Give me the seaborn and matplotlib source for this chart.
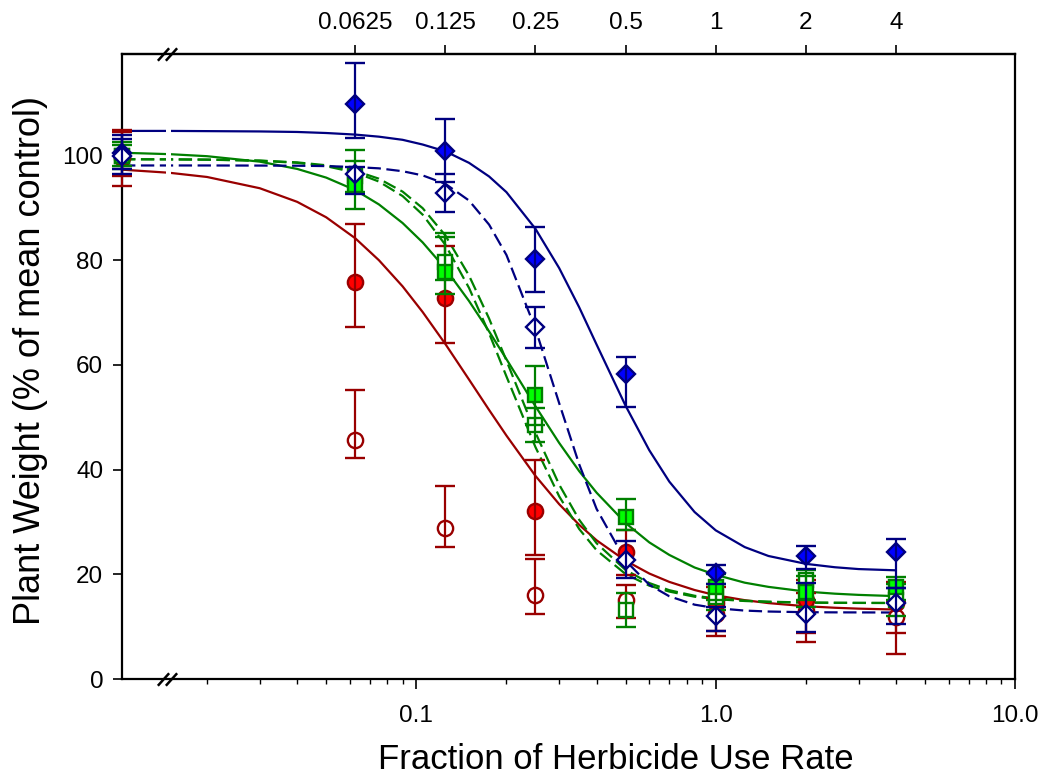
import matplotlib
matplotlib.use("Agg")
import matplotlib.pyplot as plt
import matplotlib.transforms as mtransforms
from matplotlib.ticker import FixedLocator, NullLocator
import seaborn as sns

# control is drawn on the left axis edge
CTRL_X = 0.0104
doses = [CTRL_X, 0.0625, 0.125, 0.25, 0.5, 1, 2, 4]
top_ticks = [0.0625, 0.125, 0.25, 0.5, 1, 2, 4]
top_labels = ["0.0625", "0.125", "0.25", "0.5", "1", "2", "4"]

# measured means and (lower, upper) error bars
blue_full = [100.5, 109.8, 100.9, 80.2, 58.3, 20.2, 23.5, 24.3]
blue_full_lo = [3.0, 6.5, 6.0, 6.3, 6.3, 2.0, 2.5, 6.9]
blue_full_up = [3.5, 7.9, 6.0, 6.2, 3.3, 1.5, 2.0, 2.4]

blue_open = [100.0, 96.4, 92.9, 67.2, 22.7, 12.0, 12.5, 14.6]
blue_open_lo = [3.5, 3.8, 3.6, 3.9, 3.5, 2.8, 3.5, 4.1]
blue_open_up = [3.1, 1.5, 3.6, 3.8, 3.7, 1.8, 5.8, 2.8]

green_full = [100.0, 94.4, 77.8, 54.2, 31.0, 17.6, 16.7, 17.6]
green_full_lo = [2.5, 4.7, 4.3, 5.6, 2.5, 2.5, 3.0, 2.5]
green_full_up = [2.5, 6.6, 6.7, 5.6, 3.4, 2.5, 3.0, 1.8]

green_open = [100.0, 96.0, 79.7, 48.5, 13.2, 15.7, 18.9, 15.1]
green_open_lo = [2.0, 3.0, 3.5, 3.2, 3.2, 2.5, 3.8, 3.0]
green_open_up = [2.0, 3.0, 5.5, 3.3, 3.2, 2.5, 2.0, 3.0]

red_full = [99.6, 75.8, 72.7, 32.0, 24.2, 14.5, 15.0, 14.5]
red_full_lo = [5.4, 8.6, 8.6, 8.3, 4.3, 5.3, 6.3, 5.8]
red_full_up = [5.3, 11.1, 10.0, 9.8, 4.3, 3.0, 4.0, 4.0]

red_open = [100.0, 45.7, 28.8, 16.0, 15.0, 12.5, 13.0, 11.9]
red_open_lo = [4.0, 3.4, 3.5, 3.5, 3.3, 4.3, 5.9, 7.1]
red_open_up = [4.5, 9.5, 8.1, 7.0, 3.0, 3.0, 3.5, 3.0]

# fitted curves at these rates
fit_x = [0.0104, 0.015, 0.02, 0.03, 0.04, 0.05, 0.0625, 0.075, 0.09, 0.105,
         0.125, 0.15, 0.175, 0.2, 0.25, 0.3, 0.35, 0.4, 0.5, 0.6,
         0.7, 0.85, 1.0, 1.25, 1.5, 2.0, 2.5, 3.0, 4.0]
blue_fit_y = [104.7, 104.7, 104.66, 104.6, 104.5, 104.3, 104.0, 103.6, 103.0, 102.1,
              100.8, 98.6, 96.0, 93.0, 86.0, 78.5, 71.0, 63.9, 52.2, 43.7,
              37.7, 31.9, 28.4, 25.2, 23.5, 22.0, 21.35, 21.0, 20.76]
blue_dash_y = [98.1, 98.1, 98.1, 98.08, 98.05, 97.98, 97.8, 97.55, 97.0, 96.2,
               94.6, 91.4, 86.8, 81.0, 66.9, 52.7, 41.0, 32.5, 22.6, 18.0,
               15.8, 14.2, 13.54, 13.07, 12.89, 12.76, 12.73, 12.72, 12.7]
green_fit_y = [100.53, 100.26, 99.87, 98.83, 97.44, 95.78, 93.4, 90.66, 87.1, 83.4,
               78.4, 72.2, 66.4, 61.1, 52.1, 45.1, 39.7, 35.6, 29.8, 26.1,
               23.7, 21.3, 19.9, 18.4, 17.6, 16.7, 16.3, 16.07, 15.83]
green_dash_a_y = [99.29, 99.26, 99.21, 99.0, 98.6, 97.96, 96.75, 95.03, 92.25, 88.7,
                  82.95, 74.7, 66.05, 57.8, 44.3, 34.9, 28.65, 24.6, 20.05, 17.83,
                  16.7, 15.72, 15.26, 14.9, 14.73, 14.6, 14.55, 14.53, 14.52]
green_dash_b_y = [99.29, 99.27, 99.22, 99.04, 98.69, 98.14, 97.08, 95.57, 93.1, 89.94,
                  84.74, 77.06, 68.86, 60.82, 47.06, 37.14, 30.41, 25.94, 20.83, 18.33,
                  16.96, 15.9, 15.38, 14.96, 14.77, 14.61, 14.56, 14.54, 14.52]
red_fit_y = [97.3, 96.7, 95.9, 93.75, 91.15, 88.2, 84.2, 80.0, 75.0, 70.1,
             64.0, 57.2, 51.4, 46.5, 38.8, 33.4, 29.45, 26.5, 22.6, 20.15,
             18.55, 17.0, 16.0, 15.06, 14.5, 13.9, 13.61, 13.44, 13.27]

NAVY = "#000080"
BLUE = "#0000FF"
GREEN = "#008000"
LIME = "#00FF00"
DRED = "#990000"
RED = "#FF0000"
DASH = (0, (6, 2.5))

sns.set_theme(style="ticks")
plt.rcParams["font.family"] = ["Liberation Sans", "DejaVu Sans"]
plt.rcParams["text.color"] = "black"
plt.rcParams["axes.labelcolor"] = "black"

fig = plt.figure(figsize=(10.44, 7.81), dpi=100)
ax = fig.add_axes([0.1169, 0.1306, 0.8554, 0.8003])
ax.set_xscale("log")
ax.set_xlim(CTRL_X, 10)
ax.set_ylim(0, 119.4)

# fit lines
fits = [
    (red_fit_y, DRED, "-"),
    (green_dash_a_y, GREEN, DASH),
    (green_dash_b_y, GREEN, DASH),
    (green_fit_y, GREEN, "-"),
    (blue_dash_y, NAVY, DASH),
    (blue_fit_y, NAVY, "-"),
]
for fy, col, ls in fits:
    sns.lineplot(x=fit_x, y=fy, ax=ax, color=col, linewidth=1.6, linestyle=ls,
                 estimator=None, zorder=2)

# gap in the curves at the axis break
ax.axvspan(0.01455, 0.0151, color="white", lw=0, zorder=2.2)


def draw_points(y, lo, up, marker, face, edge, ms, z):
    cont = ax.errorbar(doses, y, yerr=[lo, up], fmt=marker, ms=ms, mfc=face,
                       mec=edge, mew=1.7, ecolor=edge, elinewidth=1.6,
                       capsize=7, capthick=1.6, zorder=z)
    for art in cont.get_children():
        art.set_clip_on(False)
        art.set_zorder(z)


draw_points(red_open, red_open_lo, red_open_up, "o", "white", DRED, 11, 3)
draw_points(red_full, red_full_lo, red_full_up, "o", RED, DRED, 11, 3.1)
draw_points(green_open, green_open_lo, green_open_up, "s", "white", GREEN, 10, 3.2)
draw_points(green_full, green_full_lo, green_full_up, "s", LIME, GREEN, 10.5, 3.3)
draw_points(blue_full, blue_full_lo, blue_full_up, "D", BLUE, NAVY, 9.5, 3.4)
draw_points(blue_open, blue_open_lo, blue_open_up, "D", "white", NAVY, 9.5, 3.5)

# axes styling
for sp in ax.spines.values():
    sp.set_linewidth(1.6)
    sp.set_color("black")
    sp.set_zorder(2.5)

ax.xaxis.set_major_locator(FixedLocator([0.1, 1, 10]))
ax.set_xticklabels(["0.1", "1.0", "10.0"])
ax.xaxis.set_minor_locator(FixedLocator(
    [0.02, 0.03, 0.04, 0.05, 0.06, 0.07, 0.08, 0.09,
     0.2, 0.3, 0.4, 0.5, 0.6, 0.7, 0.8, 0.9,
     2, 3, 4, 5, 6, 7, 8, 9]))
ax.set_yticks([0, 20, 40, 60, 80, 100])
ax.yaxis.set_minor_locator(NullLocator())

ax.tick_params(axis="x", which="major", direction="out", length=7, width=1.2,
               labelsize=17.5, pad=12, colors="black")
ax.tick_params(axis="x", which="minor", direction="out", length=3.5, width=1.0,
               colors="black")
ax.tick_params(axis="y", which="major", direction="out", length=6.5, width=1.2,
               labelsize=17.5, pad=7, colors="black")

top = ax.secondary_xaxis("top")
top.set_xticks(top_ticks, labels=top_labels)
top.xaxis.set_minor_locator(NullLocator())
top.tick_params(axis="x", which="major", direction="out", length=6.5, width=1.2,
                labelsize=17.5, pad=8, colors="black")
top.spines["top"].set_linewidth(1.6)

ax.set_xlabel("Fraction of Herbicide Use Rate", fontsize=25, color="black")
ax.set_ylabel("Plant Weight (% of mean control)", fontsize=26, color="black")
ax.xaxis.set_label_coords(0.553, -0.128)
ax.xaxis.label.set_va("center")
ax.yaxis.set_label_coords(-0.103, 0.51)
ax.yaxis.label.set_va("center")

# axis break marks on the bottom and top spines
blend = mtransforms.blended_transform_factory(ax.transData, ax.transAxes)
for yb in (0, 1):
    ax.plot([0.0142, 0.01516], [yb, yb], transform=blend, ls="none",
            marker=[(-0.9, -1), (0.9, 1)], ms=9, mew=1.8, mec="black",
            clip_on=False, zorder=6)

fig.savefig("out.png", dpi=100, facecolor="white")
